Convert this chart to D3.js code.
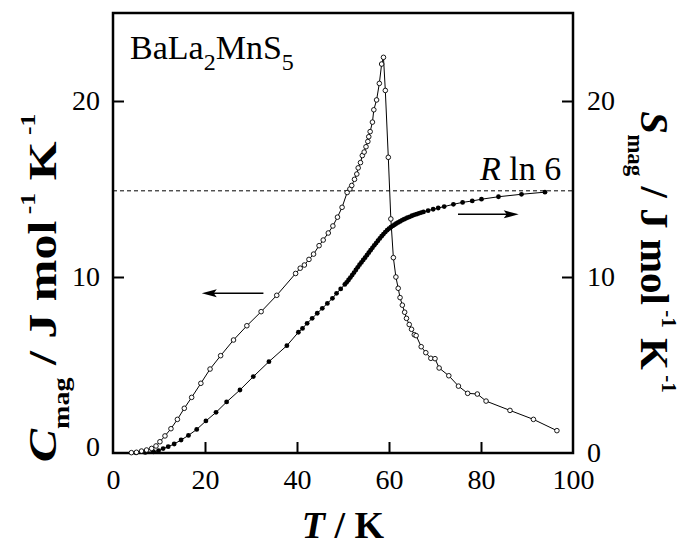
<!DOCTYPE html>
<html>
<head>
<meta charset="utf-8">
<script src="https://cdn.jsdelivr.net/npm/d3@7"></script>
<style>
  body { margin: 0; background: #fff; }
  svg { display: block; font-family: "Liberation Serif", "Times New Roman", serif; }
</style>
</head>
<body>
<div id="chart"></div>
<script>
// Cmag (open circles) : [T, value]
const cmagData = [
  [2.0, 0.0], [3.0, 0.01], [4.0, 0.02], [5.1, 0.04], [6.2, 0.11], [7.3, 0.17], [8.4, 0.26],
  [9.35, 0.40], [10.2, 0.64], [11.3, 0.97], [12.6, 1.38], [14.0, 1.91], [15.5, 2.54],
  [17.1, 3.16], [19.1, 3.96], [21.1, 4.77], [23.4, 5.53], [26.2, 6.42], [29.1, 7.23],
  [32.2, 8.03], [35.6, 8.96], [39.7, 10.2], [40.7, 10.5], [41.6, 10.68], [42.6, 11.0],
  [43.6, 11.3], [44.8, 11.78], [45.7, 12.1], [46.8, 12.5], [47.8, 12.9], [48.8, 13.4],
  [49.8, 13.96], [50.9, 14.8], [51.5, 15.0], [51.9, 15.2], [52.5, 15.55], [53.0, 15.85],
  [53.3, 16.2], [53.8, 16.5], [54.2, 16.9], [54.6, 17.1], [55.0, 17.4], [55.4, 17.7],
  [55.6, 17.97], [55.9, 18.26], [56.4, 18.8], [56.7, 19.5], [57.3, 20.06], [57.9, 21.0],
  [58.4, 22.1], [58.8, 22.48], [59.2, 20.6], [59.85, 16.8], [60.4, 13.3], [60.95, 11.1],
  [61.5, 10.0], [62.0, 9.36], [62.4, 8.83], [62.9, 8.4], [63.4, 8.0], [63.8, 7.65],
  [64.4, 7.3], [64.9, 7.03], [65.5, 6.72], [65.9, 6.67], [67.0, 6.04], [68.0, 5.7],
  [69.1, 5.38], [70.0, 5.36], [70.9, 4.83], [73.0, 4.39], [75.1, 3.8], [77.1, 3.39],
  [79.2, 3.35], [81.1, 2.95], [86.3, 2.42], [91.4, 1.91], [96.5, 1.27]
];

// Smag (filled circles) : [T, value]
const smagData = [
  [2.0, 0.0], [5.0, 0.01], [7.0, 0.03], [8.8, 0.07], [9.9, 0.13], [10.9, 0.25], [12.0, 0.36],
  [13.3, 0.51], [14.8, 0.74], [16.4, 1.0], [18.2, 1.34], [20.2, 1.82], [22.4, 2.31],
  [24.7, 2.9], [27.6, 3.58], [30.5, 4.34], [33.9, 5.19], [37.8, 6.1], [40.3, 6.86],
  [41.2, 7.08], [42.2, 7.37], [43.3, 7.65], [44.4, 7.94], [45.5, 8.22], [46.6, 8.5],
  [47.7, 8.79], [48.6, 9.07], [49.5, 9.32], [50.4, 9.58], [50.8, 9.70], [51.2, 9.83],
  [51.6, 9.97], [52.0, 10.11], [52.4, 10.25], [52.8, 10.40], [53.2, 10.55], [53.6, 10.70],
  [54.0, 10.83], [54.4, 10.97], [54.8, 11.10], [55.2, 11.24], [55.6, 11.38], [56.0, 11.52],
  [56.4, 11.66], [56.8, 11.80], [57.2, 11.93], [57.6, 12.06], [58.0, 12.19], [58.4, 12.32],
  [58.8, 12.44], [59.2, 12.55], [59.6, 12.66], [60.0, 12.75], [60.4, 12.83], [60.8, 12.90],
  [61.2, 12.97], [61.6, 13.04], [62.0, 13.10], [62.4, 13.16], [62.8, 13.22], [63.2, 13.27],
  [63.6, 13.32], [64.0, 13.37], [64.5, 13.42], [65.0, 13.48], [65.5, 13.53], [66.0, 13.57],
  [66.5, 13.62], [67.0, 13.66], [67.5, 13.70], [68.5, 13.77], [69.6, 13.85], [70.7, 13.92],
  [72.0, 14.0], [74.0, 14.13], [76.0, 14.24], [78.1, 14.32], [80.1, 14.42], [83.8, 14.56],
  [88.8, 14.70], [93.9, 14.82]
];

const xTicks = [0, 20, 40, 60, 80, 100];
const yTicks = [0, 10, 20];
const rLn6 = 8.314 * Math.log(6);

// arrows: [from T, to T, value]
const arrows = [[32.7, 19.3, 9.07], [75.0, 88.2, 13.56]];

const W = 692, H = 547;
const margin = { top: 13, right: 119, bottom: 94, left: 113 };

const svg = d3.select("#chart").append("svg")
  .attr("width", W)
  .attr("height", H);

const x = d3.scaleLinear().domain([0, 100]).range([margin.left, W - margin.right]);
const y = d3.scaleLinear().domain([0, 25]).range([H - margin.bottom, margin.top]);

// axes (ticks inside)
const gx = svg.append("g")
  .attr("transform", `translate(0,${H - margin.bottom})`)
  .call(d3.axisBottom(x).tickValues(xTicks).tickSize(-11).tickPadding(16).tickFormat(d3.format("d")));
gx.selectAll(".tick").filter(d => d === 0 || d === 100).select("line").remove();

const gyl = svg.append("g")
  .attr("transform", `translate(${margin.left},0)`)
  .call(d3.axisLeft(y).tickValues(yTicks).tickSize(-11).tickPadding(13));
gyl.selectAll(".tick").filter(d => d === 0).select("line").remove();
gyl.selectAll(".tick").filter(d => d === 0).select("text").attr("y", -6);

const gyr = svg.append("g")
  .attr("transform", `translate(${W - margin.right},0)`)
  .call(d3.axisRight(y).tickValues(yTicks).tickSize(-11).tickPadding(14));
gyr.selectAll(".tick").filter(d => d === 0).select("line").remove();

[gx, gyl, gyr].forEach(g => {
  g.select(".domain").remove();
  g.selectAll(".tick line").attr("stroke", "#000").attr("stroke-width", 2);
  g.selectAll(".tick text")
    .attr("fill", "#000")
    .style("font-family", "Liberation Serif")
    .style("font-size", "28px");
});

// frame
svg.append("rect")
  .attr("x", x(0))
  .attr("y", y(25))
  .attr("width", x(100) - x(0))
  .attr("height", y(0) - y(25))
  .attr("fill", "none")
  .attr("stroke", "#000")
  .attr("stroke-width", 2.5);

// R ln 6 dashed line
svg.append("line")
  .attr("x1", x(0)).attr("x2", x(100))
  .attr("y1", y(rLn6)).attr("y2", y(rLn6))
  .attr("stroke", "#000")
  .attr("stroke-width", 1)
  .attr("stroke-dasharray", "4,3");

const line = d3.line().x(d => x(d[0])).y(d => y(d[1]));

svg.append("path").datum(smagData)
  .attr("d", line).attr("fill", "none").attr("stroke", "#000").attr("stroke-width", 1);
svg.append("path").datum(cmagData)
  .attr("d", line).attr("fill", "none").attr("stroke", "#000").attr("stroke-width", 1);

svg.append("g").selectAll("circle")
  .data(smagData.slice(1))
  .join("circle")
  .attr("cx", d => x(d[0]))
  .attr("cy", d => y(d[1]))
  .attr("r", 2.4)
  .attr("fill", "#000");

svg.append("g").selectAll("circle")
  .data(cmagData.slice(2))
  .join("circle")
  .attr("cx", d => x(d[0]))
  .attr("cy", d => y(d[1]))
  .attr("r", 2.3)
  .attr("fill", "#fff")
  .attr("stroke", "#000")
  .attr("stroke-width", 0.9);

// arrows
arrows.forEach(a => {
  const x0 = x(a[0]), x1 = x(a[1]), yy = y(a[2]);
  const dir = x1 > x0 ? 1 : -1;
  svg.append("line")
    .attr("x1", x0).attr("x2", x1 - dir * 10)
    .attr("y1", yy).attr("y2", yy)
    .attr("stroke", "#000").attr("stroke-width", 1.5);
  svg.append("path")
    .attr("d", `M${x1},${yy} L${x1 - dir * 15},${yy - 4} L${x1 - dir * 12},${yy} L${x1 - dir * 15},${yy + 4} Z`)
    .attr("fill", "#000");
});

// compound label
const comp = svg.append("text")
  .attr("x", x(3.7)).attr("y", y(22.4))
  .style("font-size", "34px");
comp.append("tspan").text("BaLa");
comp.append("tspan").attr("dy", 11).style("font-size", "24px").text("2");
comp.append("tspan").attr("dy", -11).text("MnS");
comp.append("tspan").attr("dy", 11).style("font-size", "24px").text("5");

// R ln 6 label
const rl = svg.append("text")
  .attr("x", x(79.8)).attr("y", y(15.5))
  .style("font-size", "34px");
rl.append("tspan").style("font-style", "italic").text("R");
rl.append("tspan").text(" ln 6");

// axis titles
const xt = svg.append("text")
  .attr("x", (x(0) + x(100)) / 2).attr("y", 538)
  .attr("text-anchor", "middle")
  .style("font-size", "38px").style("font-weight", "bold");
xt.append("tspan").style("font-style", "italic").text("T");
xt.append("tspan").text(" / K");

function unitTitle(g, sym) {
  g.append("tspan").style("font-style", "italic").text(sym);
  g.append("tspan").attr("dy", 13).style("font-size", "23px").text("mag");
  g.append("tspan").attr("dy", -13).text(" / J mol");
  g.append("tspan").attr("dy", -21).style("font-size", "21px").text(" -1");
  g.append("tspan").attr("dy", 21).text(" K");
  g.append("tspan").attr("dy", -21).style("font-size", "21px").text(" -1");
}

const yl = svg.append("text")
  .attr("transform", "translate(56,288) rotate(-90) scale(1.22,1)")
  .attr("text-anchor", "middle")
  .style("font-size", "41px").style("font-weight", "bold");
unitTitle(yl, "C");

const yr = svg.append("text")
  .attr("transform", "translate(641,252) rotate(90)")
  .attr("text-anchor", "middle")
  .style("font-size", "41px").style("font-weight", "bold");
unitTitle(yr, "S");
</script>
</body>
</html>
